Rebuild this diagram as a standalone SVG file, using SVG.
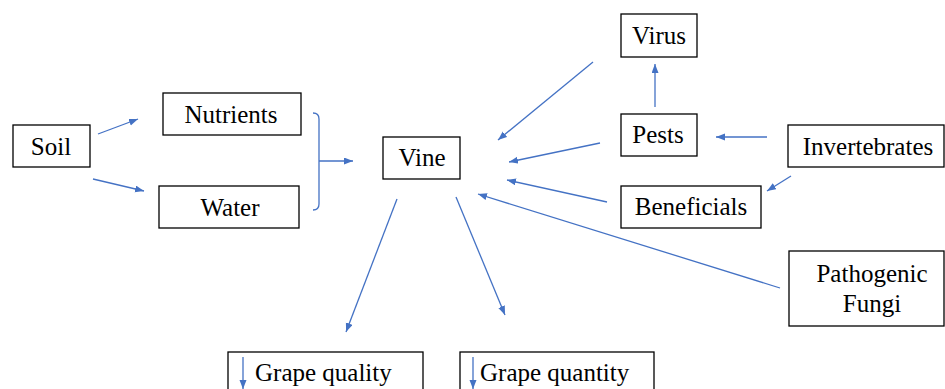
<svg xmlns="http://www.w3.org/2000/svg" width="945" height="389" viewBox="0 0 945 389">
<style>
.box{fill:#fff;stroke:#000;stroke-width:1.3}
.t{font-family:'Liberation Serif',Tinos,'Times New Roman','DejaVu Serif',serif;font-size:25px;fill:#000}
.c{text-anchor:middle}
.ln{fill:none;stroke:#4472C4;stroke-width:1.3}
</style>
<defs>
<marker id="ah" markerUnits="userSpaceOnUse" markerWidth="10" markerHeight="8" refX="9" refY="3.5" orient="auto">
<path d="M0,0 L9,3.5 L0,7 z" fill="#4472C4"/>
</marker>
</defs>
<rect width="945" height="389" fill="#fff"/>
<g id="connectors">
<line class="ln" x1="98" y1="134" x2="138" y2="119" marker-end="url(#ah)"/>
<line class="ln" x1="93" y1="179" x2="144" y2="191" marker-end="url(#ah)"/>
<path class="ln" d="M313,113 Q319,113 319,119 L319,204 Q319,210 313,210"/>
<line class="ln" x1="319" y1="161" x2="353" y2="161" marker-end="url(#ah)"/>
<line class="ln" x1="593" y1="62" x2="498" y2="140" marker-end="url(#ah)"/>
<line class="ln" x1="655" y1="107" x2="655" y2="64" marker-end="url(#ah)"/>
<line class="ln" x1="600" y1="143" x2="509" y2="162" marker-end="url(#ah)"/>
<line class="ln" x1="767" y1="137" x2="716" y2="137" marker-end="url(#ah)"/>
<line class="ln" x1="791" y1="176" x2="767" y2="191" marker-end="url(#ah)"/>
<line class="ln" x1="607" y1="202" x2="507" y2="180" marker-end="url(#ah)"/>
<line class="ln" x1="780" y1="288" x2="478" y2="194" marker-end="url(#ah)"/>
<line class="ln" x1="397" y1="199" x2="346" y2="332" marker-end="url(#ah)"/>
<line class="ln" x1="456" y1="197" x2="505" y2="315" marker-end="url(#ah)"/>
</g>
<g id="soil"><rect class="box" x="13" y="125" width="77" height="42"/><text class="t c" x="51" y="155">Soil</text></g>
<g id="nutrients"><rect class="box" x="163" y="93" width="138" height="42"/><text class="t c" x="231" y="123">Nutrients</text></g>
<g id="water"><rect class="box" x="159" y="186" width="140" height="42"/><text class="t c" x="230" y="216">Water</text></g>
<g id="vine"><rect class="box" x="383" y="137" width="77" height="42"/><text class="t c" x="422" y="166">Vine</text></g>
<g id="virus"><rect class="box" x="621" y="14" width="76" height="43"/><text class="t c" x="659" y="44">Virus</text></g>
<g id="pests"><rect class="box" x="621" y="114" width="76" height="42"/><text class="t c" x="658" y="143">Pests</text></g>
<g id="invertebrates"><rect class="box" x="788" y="125" width="156" height="42"/><text class="t c" x="868" y="155">Invertebrates</text></g>
<g id="beneficials"><rect class="box" x="621" y="186" width="140" height="42"/><text class="t c" x="691" y="215">Beneficials</text></g>
<g id="fungi"><rect class="box" x="789" y="251" width="155" height="75"/><text class="t c" x="872" y="282">Pathogenic</text><text class="t c" x="872" y="312">Fungi</text></g>
<g id="grape-quality"><rect class="box" x="228" y="352" width="195" height="45"/><line class="ln" x1="243" y1="357" x2="243" y2="389" marker-end="url(#ah)"/><text class="t" x="255" y="381">Grape quality</text></g>
<g id="grape-quantity"><rect class="box" x="460" y="352" width="194" height="45"/><line class="ln" x1="473" y1="357" x2="473" y2="389" marker-end="url(#ah)"/><text class="t" x="480" y="381">Grape quantity</text></g>
</svg>
